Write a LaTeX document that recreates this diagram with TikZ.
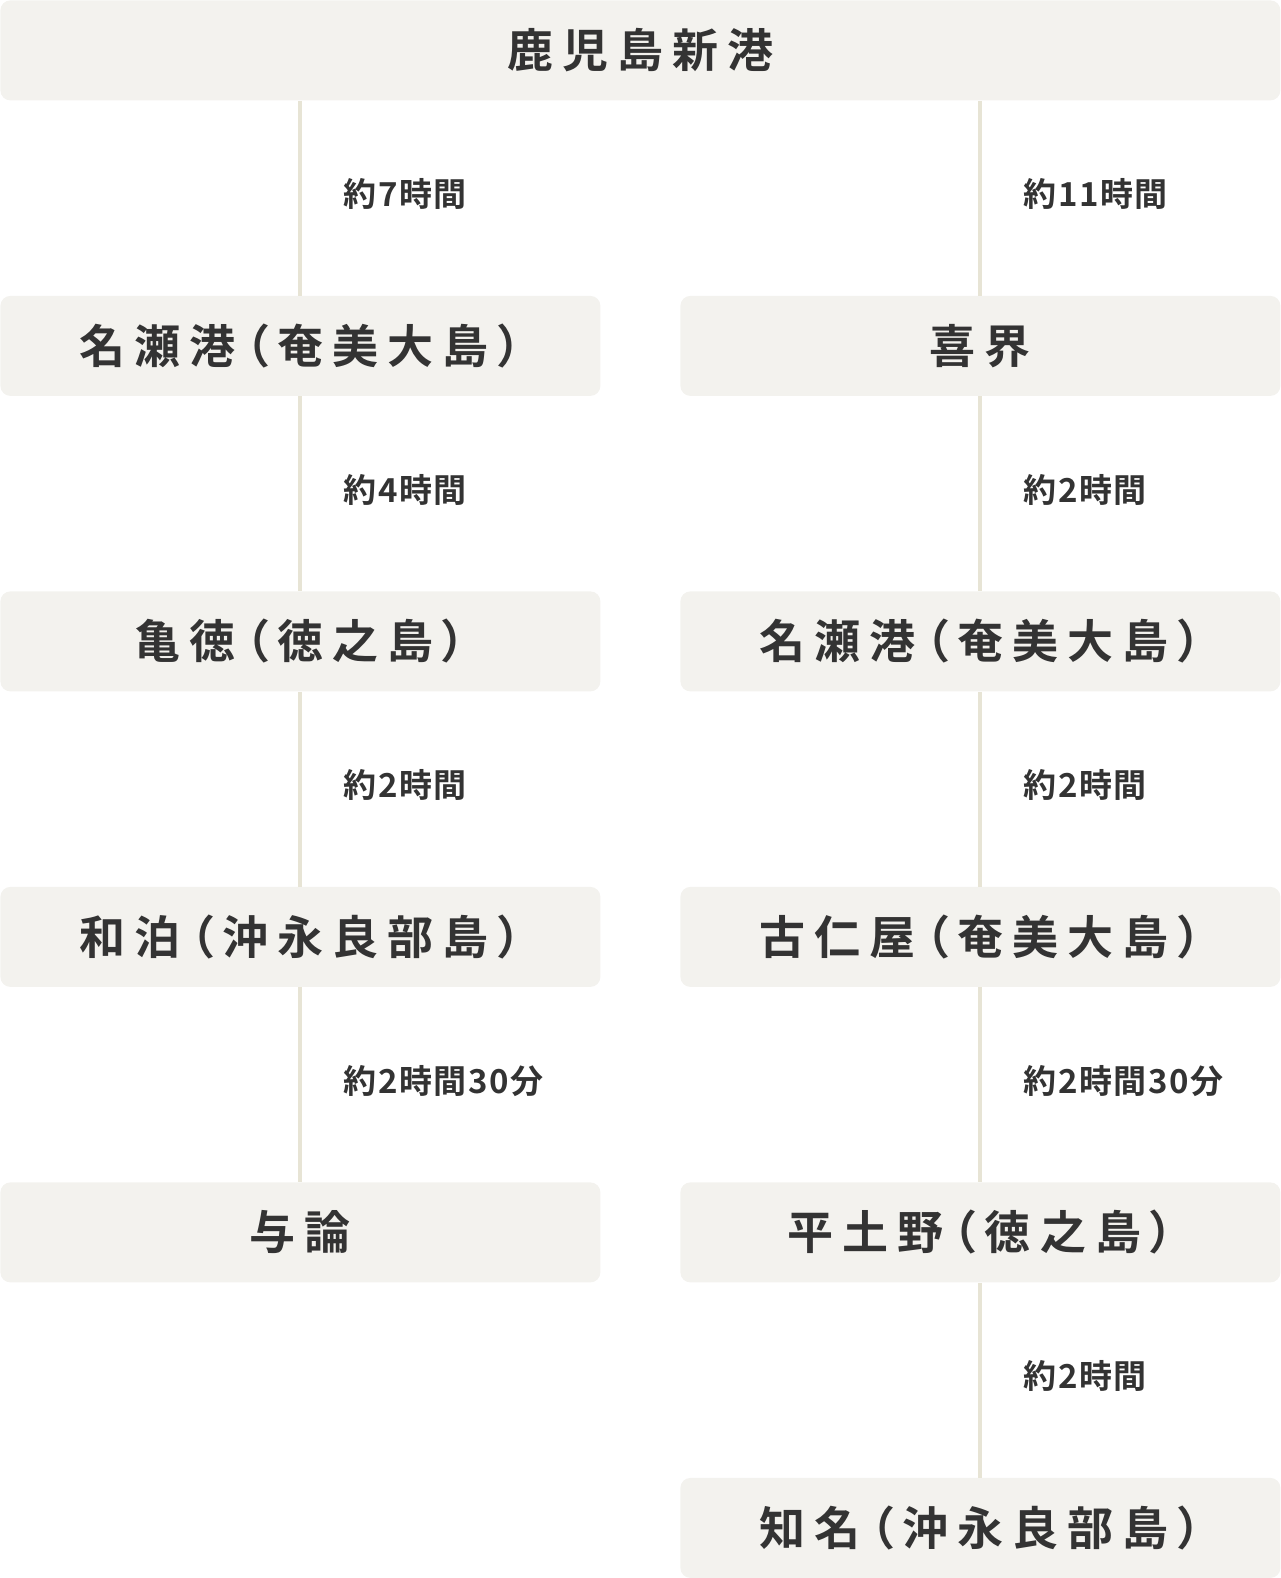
\documentclass[tikz,border=0pt]{standalone}
\usepackage{fontspec}
\usepackage{xcolor}
\setmainfont{Noto Sans CJK JP}[RawFeature=+palt, BoldFont={* Bold}]
\newfontfamily\portfont{Noto Sans CJK JP}[RawFeature=+palt, LetterSpace=20, BoldFont={* Bold}]
\newfontfamily\timefont{Noto Sans CJK JP}[RawFeature=+palt, LetterSpace=5, BoldFont={* Bold}]
\definecolor{portbg}{HTML}{F3F2EE}
\definecolor{route}{HTML}{E7E4D5}
\definecolor{ink}{HTML}{333333}

\begin{document}
\begin{tikzpicture}[x=0.5pt, y=-0.5pt,
  port/.style={fill=portbg, rounded corners=5pt, anchor=north west, inner sep=0pt,
    minimum width=300pt, minimum height=50pt, text=ink, font=\portfont\bfseries\fontsize{23pt}{26pt}\selectfont},
  routeline/.style={draw=route, line width=2pt},
  duration/.style={anchor=west, inner sep=0pt, xshift=20.5pt, yshift=2pt, text=ink,
    font=\timefont\bfseries\fontsize{16.5pt}{19pt}\selectfont}]
\useasboundingbox (0,0) rectangle (1280,1578);

% === Departure ===
\node[port, minimum width=640pt] (kago) at (0,0) {鹿児島新港};

% === Left route ===
\node[port] (l1) at (0,295.5) {名瀬港（奄美大島）};
\node[port] (l2) at (0,591) {亀徳（徳之島）};
\node[port] (l3) at (0,886.5) {和泊（沖永良部島）};
\node[port] (l4) at (0,1182) {与論};

% === Right route ===
\node[port] (r1) at (680,295.5) {喜界};
\node[port] (r2) at (680,591) {名瀬港（奄美大島）};
\node[port] (r3) at (680,886.5) {古仁屋（奄美大島）};
\node[port] (r4) at (680,1182) {平土野（徳之島）};
\node[port] (r5) at (680,1477.5) {知名（沖永良部島）};

% connectors with times
\draw[routeline] (l1.north |- kago.south) -- node[duration] {約7時間} (l1.north);
\draw[routeline] (l1.south) -- node[duration] {約4時間} (l2.north);
\draw[routeline] (l2.south) -- node[duration] {約2時間} (l3.north);
\draw[routeline] (l3.south) -- node[duration] {約2時間30分} (l4.north);

\draw[routeline] (r1.north |- kago.south) -- node[duration] {約11時間} (r1.north);
\draw[routeline] (r1.south) -- node[duration] {約2時間} (r2.north);
\draw[routeline] (r2.south) -- node[duration] {約2時間} (r3.north);
\draw[routeline] (r3.south) -- node[duration] {約2時間30分} (r4.north);
\draw[routeline] (r4.south) -- node[duration] {約2時間} (r5.north);

\end{tikzpicture}
\end{document}
